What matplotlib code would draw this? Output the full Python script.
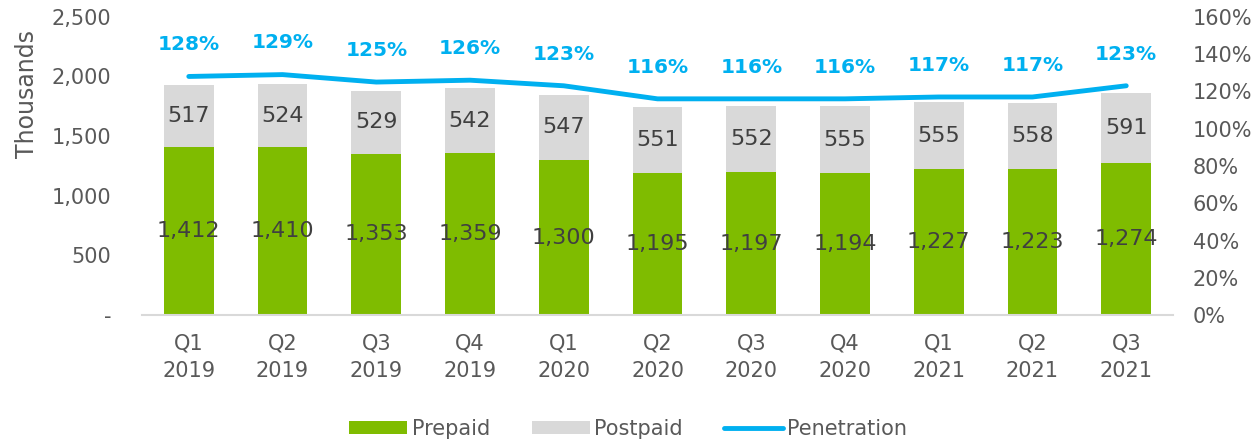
import numpy as np
import matplotlib.pyplot as plt
from matplotlib.ticker import FuncFormatter

quarters = ["Q1\n2019", "Q2\n2019", "Q3\n2019", "Q4\n2019", "Q1\n2020", "Q2\n2020",
            "Q3\n2020", "Q4\n2020", "Q1\n2021", "Q2\n2021", "Q3\n2021"]
prepaid = [1412, 1410, 1353, 1359, 1300, 1195, 1197, 1194, 1227, 1223, 1274]
postpaid = [517, 524, 529, 542, 547, 551, 552, 555, 555, 558, 591]
penetration = [128, 129, 125, 126, 123, 116, 116, 116, 117, 117, 123]

green = "#7fbc00"
grey = "#d9d9d9"
blue = "#00b0f0"
txt = "#595959"

plt.rcParams['font.family'] = ['DejaVu Sans']
fig = plt.figure(figsize=(12.56, 4.42), dpi=100)
ax = fig.add_axes([0.113, 0.287, 0.821, 0.675])
x = np.arange(len(quarters))

ax.bar(x, prepaid, width=0.53, color=green, label="Prepaid", zorder=2)
ax.bar(x, postpaid, width=0.53, bottom=prepaid, color=grey, label="Postpaid", zorder=2)

for i in range(len(x)):
    ax.text(x[i], prepaid[i] / 2, "{:,}".format(prepaid[i]), ha="center", va="center",
            fontsize=16, color="#404040")
    ax.text(x[i], prepaid[i] + postpaid[i] / 2, "{:,}".format(postpaid[i]), ha="center",
            va="center", fontsize=16, color="#404040")

ax.set_xlim(-0.5, 10.5)
ax.set_ylim(0, 2500)
ax.set_yticks(range(0, 2501, 500))
ax.yaxis.set_major_formatter(FuncFormatter(lambda v, p: "-" if v == 0 else "{:,.0f}".format(v)))
ax.set_xticks(x)
ax.set_xticklabels(quarters, linespacing=1.5)
ax.tick_params(length=0, labelsize=15, colors=txt, pad=13)
ax.tick_params(axis="y", pad=22)
ax.set_ylabel("Thousands", fontsize=17, color=txt)
ax.yaxis.set_label_coords(-0.1, 0.74)
for s in ["top", "left", "right"]:
    ax.spines[s].set_visible(False)
ax.spines["bottom"].set_color(grey)
ax.spines["bottom"].set_linewidth(1.5)

ax2 = ax.twinx()
ax2.plot(x, penetration, color=blue, lw=3.5, solid_capstyle="round", label="Penetration", zorder=3)
ax2.set_ylim(0, 160)
ax2.set_yticks(range(0, 161, 20))
ax2.yaxis.set_major_formatter(FuncFormatter(lambda v, p: "{:.0f}%".format(v)))
ax2.tick_params(length=0, labelsize=15, colors=txt, pad=14)
for s in ["top", "left", "right", "bottom"]:
    ax2.spines[s].set_visible(False)
for i in range(len(x)):
    ax2.annotate("{}%".format(penetration[i]), (x[i], penetration[i]), xytext=(0, 16),
                 textcoords="offset points", ha="center", va="bottom", fontsize=14.5,
                 fontweight="bold", color=blue)

h1, l1 = ax.get_legend_handles_labels()
h2, l2 = ax2.get_legend_handles_labels()
fig.legend(h1 + h2, l1 + l2, loc="lower center", bbox_to_anchor=(0.5, -0.035), ncol=3,
           frameon=False, fontsize=15, labelcolor=txt, handlelength=2.8, handleheight=0.55,
           columnspacing=2.0, handletextpad=0.2)

fig.savefig("out.png", dpi=100)
